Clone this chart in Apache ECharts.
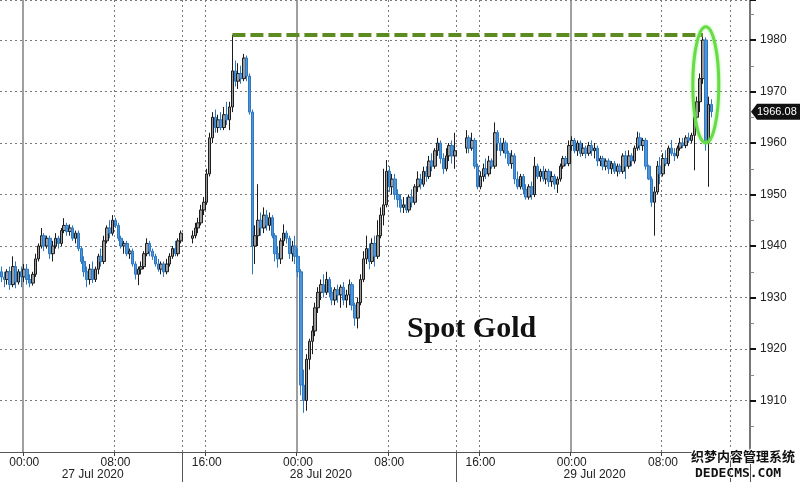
<!DOCTYPE html>
<html><head><meta charset="utf-8">
<script src="https://cdn.jsdelivr.net/npm/echarts/dist/echarts.min.js"></script>
<style>html,body{margin:0;padding:0;background:#fff}#c{width:800px;height:482px}</style>
</head><body><div id="c"></div>
<script>
// ---- data ----
const startTime = [2020, 6, 26, 22, 0];   // first 15-min slot (26 Jul 2020 22:00)
const slotMinutes = 15;
const slotCount = 263;
const hourTickLabels = ['00:00', '08:00', '16:00'];
const dottedGridTimes = ['08:00', '14:00', '16:00'];
const solidGridTimes = ['00:00'];
const sessionBreakTime = '14:00';
const dayLabels = ['27 Jul 2020', '28 Jul 2020', '29 Jul 2020'];
const yMin = 1900, yMax = 1987.77, yStep = 10;
const chartTitle = 'Spot Gold';
const lastPrice = 1966.08;
const highLevel = 1981;
const highFrom = 81, highTo = 246;         // slots of the two highs
const circleAt = [247, 1971.3];
const watermark = ['织梦内容管理系统', 'DEDECMS.COM'];
// [open, close, low, high] per 15-min slot
const ohlc = [
[1935,1934,1933,1936],[1934,1933.5,1932,1935],[1933.5,1935,1932.5,1935.5],[1935,1932.5,1931.5,1936],[1932.5,1936,1932,1938],[1936,1933,1931.8,1937],[1933,1935,1932.5,1935.5],[1935,1934,1932,1936],[1934,1935.5,1933,1936.5],[1935.5,1933.5,1932.5,1936.5],
[1933.5,1932.8,1932,1934.5],[1932.8,1934.5,1932.3,1935],[1934.5,1937.5,1934,1938.5],[1937.5,1940,1937,1940.5],[1940,1942,1939.5,1943.5],[1942,1940,1939,1942.5],[1940,1941.5,1939.5,1942],[1941.5,1938.5,1937.5,1942],[1938.5,1940,1937,1941],[1940,1941.5,1939.5,1942.5],
[1941.5,1940.5,1939.5,1942],[1940.5,1943,1940,1943.5],[1943,1944,1942.5,1945.4],[1944,1942.8,1942,1944.5],[1942.8,1943.5,1942,1944.2],[1943.5,1941.5,1941,1944],[1941.5,1942.5,1940.5,1943],[1942.5,1939.5,1939,1943],[1939.5,1937,1936.5,1940],[1937,1935,1934,1938],
[1935,1933.5,1932,1936],[1933.5,1935.5,1932.5,1936.5],[1935.5,1933.5,1932.8,1937],[1933.5,1935.5,1933,1936],[1935.5,1938,1934.5,1938.5],[1938,1937,1936,1939.5],[1937,1941,1936.5,1942],[1941,1943.5,1940.5,1944],[1943.5,1942.5,1941.5,1945],[1942.5,1945,1942,1946],
[1945,1944,1943.5,1945.5],[1944,1941.5,1941,1944.5],[1941.5,1940,1939.5,1942],[1940,1940.5,1938.5,1941],[1940.5,1938.5,1938,1941],[1938.5,1939,1937.5,1939.5],[1939,1936.5,1936,1939.5],[1936.5,1934.5,1933.5,1937],[1934.5,1935.5,1932.4,1936],[1935.5,1936,1934.5,1937],
[1936,1938.5,1935.5,1939],[1938.5,1940.5,1938,1941.5],[1940.5,1939,1938,1941],[1939,1938,1937.3,1939.5],[1938,1936.5,1936,1938.5],[1936.5,1935.5,1935,1937.5],[1935.5,1936.5,1934.5,1937],[1936.5,1935,1934,1937],[1935,1936.5,1934.5,1937.5],[1936.5,1938,1936,1938.6],
[1938,1939.5,1937.5,1940],[1939.5,1938.5,1938,1941],[1938.5,1941,1938,1941.5],[1941,1942.5,1940.5,1943],'-','-','-',[1941.5,1942,1940.5,1943],[1942,1943.5,1941.5,1944.5],[1943.5,1944.5,1942.5,1945.5],
[1944.5,1947,1944,1948],[1947,1948.5,1946,1949.5],[1948.5,1954,1948,1955],[1954,1961,1953.5,1962],[1961,1965,1960,1966],[1965,1963,1962,1966.5],[1963,1964.5,1962,1965.5],[1964.5,1963,1962.5,1966],[1963,1965.5,1962.5,1967],[1965.5,1964.5,1963.5,1968],
[1964.5,1967,1962.5,1968],[1967,1974,1966,1981],[1974,1972,1971,1976],[1972,1973.5,1970.5,1975.5],[1973.5,1972.5,1971.5,1975],[1972.5,1976.5,1972,1977.3],[1976.5,1973,1972,1977],[1973,1966,1965.5,1973.5],[1966,1940,1934.5,1966.5],[1940,1942,1936.5,1944],
[1942,1945,1940,1952],[1945,1943.5,1942,1946.5],[1943.5,1946,1942.5,1947.5],[1946,1944,1943,1947],[1944,1945.5,1943,1946.5],[1945.5,1942,1941.5,1946],[1942,1938.5,1937,1942.5],[1938.5,1937.5,1935.8,1940],[1937.5,1941,1936.5,1941.5],[1941,1942.5,1940,1944.2],
[1942.5,1941.5,1940.5,1943],[1941.5,1938.5,1937.5,1942],[1938.5,1940,1937,1941],[1940,1938,1936.5,1942],[1938,1935,1934,1939.5],[1935,1913,1911,1935.5],[1913,1910,1907.6,1916],[1910,1918,1908,1919],[1918,1921.5,1916,1922],[1921.5,1923.5,1919,1924.5],
[1923.5,1928,1922.5,1929],[1928,1931,1927,1932],[1931,1932.5,1929.5,1933.5],[1932.5,1931,1930,1934.5],[1931,1933.5,1930.5,1935],[1933.5,1931,1930,1934],[1931,1929.5,1928.5,1932],[1929.5,1931.5,1928.5,1932],[1931.5,1930.5,1929,1932.5],[1930.5,1932,1928,1932.5],
[1932,1929.5,1928.5,1933],[1929.5,1930.5,1928,1931.5],[1930.5,1932.5,1928.5,1933.5],[1932.5,1928.5,1927.5,1933],[1928.5,1926,1924.5,1929],[1926,1929,1924,1930],[1929,1933.5,1928.5,1934.5],[1933.5,1937.5,1933,1939],[1937.5,1939.5,1936.5,1942],[1939.5,1937,1935.5,1940.5],
[1937,1940.5,1936.5,1941.5],[1940.5,1938,1936,1942],[1938,1942,1937.5,1945],[1942,1946,1941.5,1947.5],[1946,1948,1944,1955],[1948,1954.5,1947.5,1956.7],[1954.5,1951.5,1950.5,1955.5],[1951.5,1953,1950,1954],[1953,1950,1949,1954],[1950,1949,1947.5,1951],
[1949,1947.5,1946.5,1950],[1947.5,1948,1946.4,1949.5],[1948,1947,1946.4,1949.5],[1947,1949.5,1946.5,1950],[1949.5,1948.5,1947.5,1951],[1948.5,1951.5,1948,1952],[1951.5,1953,1950.5,1954.5],[1953,1952,1951,1954],[1952,1954.5,1951.5,1955.4],[1954.5,1953.5,1952.5,1955.5],
[1953.5,1956.5,1953,1957.5],[1956.5,1955.5,1954.5,1958],[1955.5,1958.5,1955,1959],[1958.5,1960,1957.5,1961],[1960,1957,1956,1960.5],[1957,1955,1954,1958],[1955,1957.5,1954.5,1959],[1957.5,1959.5,1956.5,1960],[1959.5,1957.5,1956,1960.5],[1957.5,1958.5,1955,1962],
'-','-','-',[1959,1961,1958,1962.5],[1961,1959,1958,1961.5],[1959,1960.5,1958.5,1962],[1960.5,1955.5,1955,1961],[1955.5,1951.5,1951,1956],[1951.5,1953.5,1951,1954.5],[1953.5,1955,1952.5,1956],
[1955,1954,1953,1957],[1954,1956.5,1953.5,1957.5],[1956.5,1955.5,1955,1957],[1955.5,1962,1955,1964],[1962,1960,1958.5,1962.5],[1960,1958.5,1957.5,1961],[1958.5,1960,1958,1961],[1960,1958,1957,1960.5],[1958,1956,1955.5,1958.5],[1956,1957.5,1955,1958.6],
[1957.5,1953,1952,1958],[1953,1951.5,1951,1954.5],[1951.5,1953.5,1951,1954],[1953.5,1951,1950,1954],[1951,1949.5,1949,1952],[1949.5,1951.5,1949,1952],[1951.5,1950,1949,1952.5],[1950,1955.5,1949.5,1957.3],[1955.5,1953.5,1953,1956],[1953.5,1954.5,1952.5,1955],
[1954.5,1953,1952.5,1955.5],[1953,1954.5,1952,1955],[1954.5,1952.5,1951.5,1955],[1952.5,1953.5,1951.5,1954.5],[1953.5,1952,1951,1954],[1952,1953,1950.3,1953.5],[1953,1955.5,1952.5,1956],[1955.5,1957,1955,1957.5],[1957,1956,1955.5,1957.5],[1956,1959.5,1955.5,1960.5],
[1959.5,1960.5,1958.5,1961.3],[1960.5,1958.5,1958,1961],[1958.5,1960,1957.5,1960.5],[1960,1958,1957.3,1960.5],[1958,1959,1957.5,1960],[1959,1958,1957,1959.5],[1958,1959.5,1957.5,1960.2],[1959.5,1958.5,1957.5,1960.5],[1958.5,1959,1957,1960],[1959,1956.5,1955.5,1959.5],
[1956.5,1957,1955.5,1957.5],[1957,1955.5,1954.7,1957.5],[1955.5,1956.5,1954.7,1957],[1956.5,1955,1954,1957],[1955,1956,1954,1956.5],[1956,1954.5,1954,1956.5],[1954.5,1955.5,1953.5,1956],[1955.5,1954.5,1954,1956],[1954.5,1957.5,1954,1958],[1957.5,1955.5,1953,1958.5],
[1955.5,1957.5,1955,1958.6],[1957.5,1956.5,1955.5,1958],[1956.5,1959,1956,1959.5],[1959,1961,1958.5,1962.2],[1961,1959.5,1958.6,1962],[1959.5,1960.5,1958.5,1961],[1960.5,1955.5,1954.8,1961],[1955.5,1953,1952.8,1955.8],[1953,1948.5,1947.6,1953.5],[1948.5,1950.5,1942,1951.5],
[1950.5,1955.5,1950,1956.5],[1955.5,1954,1952,1957.3],[1954,1957,1953.5,1958],[1957,1956,1955.5,1958.6],[1956,1959,1955.5,1959.5],[1959,1958,1957.5,1960.6],[1958,1957.5,1956.5,1959],[1957.5,1959,1957,1959.5],[1959,1960,1958.5,1961],[1960,1959.5,1959,1961],
[1959.5,1961,1959,1961.5],[1961,1960.5,1960,1962],[1960.5,1961.5,1960,1962],[1961.5,1965,1954.7,1965.5],[1965,1968,1963.5,1969],[1968,1972.5,1966,1973.5],[1972.5,1980,1971.5,1981],[1980,1960,1958.5,1980.5],[1960,1967.5,1951.5,1969],[1967.5,1966.08,1965,1968.5]
];

// ---- categories (15-min time slots) ----
const pad = n => (n < 10 ? '0' : '') + n;
const categories = [];
const t0 = Date.UTC(startTime[0], startTime[1], startTime[2], startTime[3], startTime[4]);
for (let i = 0; i < slotCount; i++) {
  const d = new Date(t0 + i * slotMinutes * 60000);
  categories.push(pad(d.getUTCDate()) + ' ' + pad(d.getUTCHours()) + ':' + pad(d.getUTCMinutes()));
}
const hhmm = c => c.slice(3);
const breakIdx = [0];
categories.forEach((c, i) => { if (hhmm(c) === sessionBreakTime) breakIdx.push(i); });
breakIdx.push(slotCount);
const dayLabelIdx = {};
for (let k = 0; k < breakIdx.length - 1; k++) dayLabelIdx[Math.floor((breakIdx[k] + breakIdx[k + 1]) / 2)] = dayLabels[k];

const FONT = 'Liberation Sans';
const chart = echarts.init(document.getElementById('c'), null, { renderer: 'canvas' });
const gridDot = { color: '#7a7a7a', width: 1, type: [2, 3] };

const option = {
  animation: false,
  backgroundColor: '#ffffff',
  grid: { left: 0, right: 50, top: 0, bottom: 30 },
  xAxis: [
    {
      type: 'category', data: categories, boundaryGap: true,
      axisLine: { show: true, lineStyle: { color: '#555', width: 1 } },
      axisTick: { show: true, length: 4, lineStyle: { color: '#444' },
        interval: (i, v) => hourTickLabels.includes(hhmm(v)) },
      axisLabel: { show: true, margin: 5, color: '#222', fontFamily: FONT, fontSize: 12,
        interval: (i, v) => hourTickLabels.includes(hhmm(v)), formatter: v => hhmm(v) },
      splitLine: { show: true, lineStyle: gridDot, interval: (i, v) => dottedGridTimes.includes(hhmm(v)) }
    },
    {
      type: 'category', data: categories, boundaryGap: true, position: 'bottom',
      axisLine: { show: false }, axisTick: { show: false }, axisLabel: { show: false },
      splitLine: { show: true, lineStyle: { color: '#808080', width: 1.5, type: 'solid' },
        interval: (i, v) => solidGridTimes.includes(hhmm(v)) }
    },
    {
      type: 'category', data: categories, boundaryGap: true, position: 'bottom',
      axisLine: { show: false },
      axisTick: { show: true, length: 30, lineStyle: { color: '#555', width: 1 },
        interval: (i, v) => hhmm(v) === sessionBreakTime },
      axisLabel: { show: true, margin: 17, color: '#222', fontFamily: FONT, fontSize: 12,
        interval: i => dayLabelIdx[i] !== undefined, formatter: (v, i) => dayLabelIdx[i] || '' },
      splitLine: { show: false }
    }
  ],
  yAxis: {
    type: 'value', position: 'right', min: yMin, max: yMax, interval: yStep, scale: true,
    axisLine: { show: true, lineStyle: { color: '#777', width: 2 } },
    axisTick: { show: true, inside: false, length: 6, lineStyle: { color: '#111', width: 2 } },
    minorTick: { show: true, splitNumber: 2, length: 4, lineStyle: { color: '#888', width: 1 } },
    axisLabel: { show: true, margin: 10, color: '#222', fontFamily: FONT, fontSize: 12,
      showMinLabel: false, showMaxLabel: false, formatter: v => String(v) },
    splitLine: { show: true, lineStyle: gridDot }
  },
  series: [{
    type: 'candlestick', xAxisIndex: 0, yAxisIndex: 0, data: ohlc,
    barWidth: 3,
    itemStyle: { color: '#9a9a9a', color0: '#4d95d8', borderColor: '#1c1c1c', borderColor0: '#2d78c0', borderWidth: 1 },
    markLine: {
      silent: true, symbol: 'none', animation: false,
      label: { show: false },
      lineStyle: { color: '#5b8b21', width: 4, type: [13, 5], cap: 'butt' },
      data: [[{ coord: [highFrom, highLevel] }, { coord: [highTo, highLevel] }]]
    }
  }]
};
chart.setOption(option);

// annotations placed through the chart's own scales
const c = chart.convertToPixel({ seriesIndex: 0 }, circleAt);
const py = chart.convertToPixel({ yAxisIndex: 0 }, lastPrice);
const axisX = 800 - 50;
chart.setOption({
  graphic: [
    { type: 'ellipse', shape: { cx: c[0], cy: c[1], rx: 13, ry: 58 },
      style: { fill: 'none', stroke: '#66dd44', lineWidth: 3, shadowBlur: 3, shadowColor: 'rgba(102,221,68,0.6)' }, z: 100 },
    { type: 'polygon', shape: { points: [[axisX + 1, py], [axisX + 7, py - 8], [800, py - 8], [800, py + 8], [axisX + 7, py + 8]] },
      style: { fill: '#111' }, z: 100 },
    { type: 'text', x: axisX + 7, y: py, style: { text: lastPrice.toFixed(2), fill: '#fff', font: '11px ' + FONT, verticalAlign: 'middle' }, z: 101 },
    { type: 'text', left: 407, top: 314, style: { text: chartTitle, fill: '#111', font: 'bold 30px "Liberation Serif"' }, z: 100 },
    { type: 'text', left: 690, top: 449, style: { text: watermark[0], fill: '#111', font: 'bold 13px "Noto Sans CJK SC"', stroke: '#fff', lineWidth: 2 }, z: 100 },
    { type: 'text', left: 694, top: 466, style: { text: watermark[1], fill: '#111', font: 'bold 13px "DejaVu Sans Mono"', stroke: '#fff', lineWidth: 2 }, z: 100 }
  ]
});
</script>
</body></html>
